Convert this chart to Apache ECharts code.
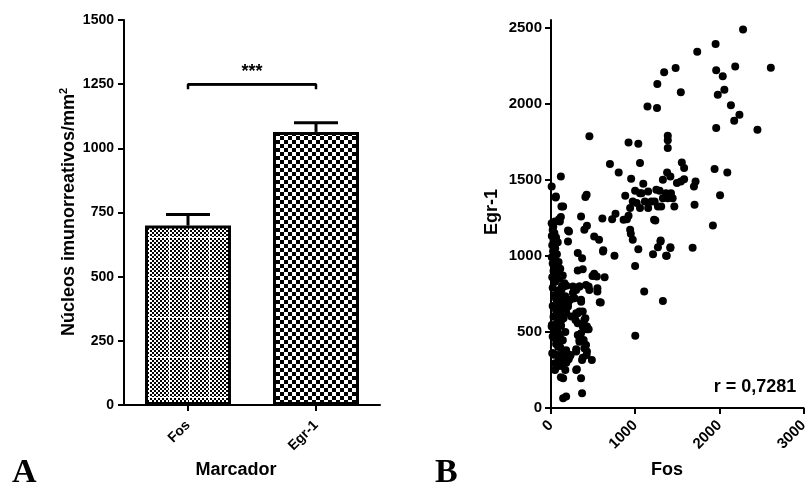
<!DOCTYPE html>
<html><head><meta charset="utf-8">
<script src="https://cdn.jsdelivr.net/npm/echarts@6/dist/echarts.min.js"></script>
<style>html,body{margin:0;padding:0;background:#fff}#c{width:811px;height:496px}</style>
</head><body><div id="c"></div>
<script>
// ---- Panel A data ----
const barCategories = ['Fos', 'Egr-1'];
const barMeans = [699, 1064];
const barErrTop = [742, 1100];
const barTicks = [0, 250, 500, 750, 1000, 1250, 1500];
const sigLevel = 1250;
const sigTickLevel = 1230;
const sigText = '***';
// ---- Panel B data (Fos, Egr-1) ----
const scatterXTicks = [0, 1000, 2000, 3000];
const scatterYTicks = [0, 500, 1000, 1500, 2000, 2500];
const rText = 'r = 0,7281';
const fosEgrPairs = [
[2281,2487],[1955,2392],[1737,2342],[1480,2235],[1344,2206],[1263,2129],[1146,1982],[1259,1972],[1542,2075],[1962,2219],
[2040,2180],[2188,2245],[2611,2237],[2059,2092],[1981,2059],[2137,1989],[2238,1928],[2176,1888],[1962,1840],[2452,1829],
[1387,1789],[1387,1759],[1387,1709],[456,1786],[921,1745],[1037,1737],[1057,1610],[700,1604],[804,1548],[952,1507],
[1554,1614],[1581,1577],[1943,1570],[2094,1548],[1379,1548],[1329,1500],[1418,1522],[1496,1478],[1542,1489],[1581,1504],
[1717,1489],[1698,1456],[1096,1474],[1251,1434],[1290,1428],[1154,1423],[1057,1412],[1367,1412],[1425,1412],[1387,1379],
[1445,1379],[1465,1325],[1329,1379],[1309,1325],[1231,1357],[1193,1357],[1115,1357],[1057,1314],[1154,1314],[1270,1325],
[1705,1336],[2008,1399],[1239,1232],[1923,1199],[1302,1101],[1270,1057],[1212,1011],[1418,1057],[1375,1000],[1682,1053],
[1107,765],[1329,704],[1001,475],[999,1428],[1076,1412],[882,1395],[971,1357],[1018,1347],[940,1314],[610,1246],
[726,1241],[766,1276],[901,1241],[921,1263],[940,1171],[948,1145],[971,1105],[621,1036],[754,1000],[999,934],
[1037,1044],[513,882],[493,868],[637,860],[862,1237],[1224,1237],[1301,1094],[1367,1000],[1418,1051],
[423,1401],[408,1386],[357,1259],[427,1197],[396,1171],[513,1127],[571,1105],[618,1029],[318,1018],[369,985],
[318,903],[377,912],[544,864],[447,798],[551,787],[579,695],[338,798],[260,798],[182,803],[124,776],
[357,711],[280,722],[377,634],[318,623],[408,590],[377,535],[423,518],[357,491],[338,447],[447,518],
[229,711],[202,667],[182,623],[241,601],[291,579],[124,579],[85,535],[47,524],[105,469],[85,403],
[144,360],[202,338],[299,371],[396,393],[27,360],[47,294],[105,283],[182,298],[221,338],[299,250],
[357,195],[369,316],[423,349],[485,316],[117,202],[144,195],[369,97],[144,64],[180,75],[307,254],
[47,250],[124,276],[377,331],[15,360],[85,349],[171,333],[233,349],[299,386],[427,371],[85,447],
[47,458],[338,436],[388,447],[416,414],[318,480],[8,535],[66,524],[318,557],[396,579],[427,535],
[299,623],[338,634],[124,656],[163,645],[105,678],[202,689],[66,711],[85,744],[105,776],[144,798],
[260,755],[299,776],[338,798],[416,809],[455,776],[551,765],[591,693],[358,699],
[8,1456],[58,1390],[124,1325],[117,1522],[55,1384],[144,1325],[117,1255],[95,1241],[8,1215],[47,1226],
[27,1193],[105,1226],[202,1167],[214,1160],[202,1094],[20,1170],[40,1150],[10,1130],[60,1120],[30,1100],
[80,1090],[15,1070],[50,1050],[25,1030],[70,1010],[10,990],[45,975],[90,960],[20,950],[60,930],
[110,915],[30,900],[75,880],[140,870],[15,860],[100,850],[50,830],[160,820],[130,800],[20,790],
[80,770],[110,745],[40,740],[170,735],[60,720],[140,700],[95,690],[20,670],[130,660],[180,650],
[60,640],[100,610],[30,600],[150,590],[75,560],[10,545],[120,540],[50,510],[170,500],[90,490],
[20,470],[140,445],[60,420],[110,400],[180,380],[35,350],[90,330],[150,300],[210,320],[65,270],[170,250]
];

function makePattern(w, h, cell, vLines, hLines) {
  const c = document.createElement('canvas');
  c.width = w; c.height = h;
  const g = c.getContext('2d');
  g.fillStyle = '#fff'; g.fillRect(0, 0, w, h);
  g.fillStyle = '#000';
  for (let y = 0; y < h; y += cell) for (let x = 0; x < w; x += cell)
    if (((x / cell) + (y / cell)) % 2 === 0) g.fillRect(x, y, cell, cell);
  g.fillStyle = '#fff';
  vLines.forEach(x => g.fillRect(x, 0, 1, h));
  hLines.forEach(y => g.fillRect(0, y, w, 1));
  return c;
}
const fosPattern = makePattern(20, 40, 2, [9], [37]);
const egrPattern = makePattern(8, 8, 4, [], []);

const FONT = "'Liberation Sans', Arial, Helvetica, sans-serif";
const plain = v => String(v);
const axisCommon = {
  axisLine: { show: true, lineStyle: { color: '#000', width: 2 } },
  axisTick: { show: true, length: 6, lineStyle: { color: '#000', width: 2 } },
  splitLine: { show: false },
  axisLabel: { color: '#000', fontFamily: FONT, fontWeight: 'bold', fontSize: 14, formatter: plain }
};

const chart = echarts.init(document.getElementById('c'), null, { renderer: 'canvas' });
chart.setOption({
  animation: false,
  backgroundColor: '#fff',
  grid: [
    { left: 124, top: 20, width: 256, height: 385 },
    { left: 551, top: 20, width: 258, height: 388 }
  ],
  xAxis: [
    Object.assign({}, axisCommon, {
      gridIndex: 0, type: 'category', data: barCategories, boundaryGap: true,
      axisTick: { show: true, alignWithLabel: true, length: 6, lineStyle: { color: '#000', width: 2 } },
      axisLabel: { color: '#000', fontFamily: FONT, fontWeight: 'bold', fontSize: 14, rotate: 45, margin: 18 }
    }),
    Object.assign({}, axisCommon, {
      gridIndex: 1, type: 'value', min: 0, max: 3000, interval: 1000,
      axisLabel: Object.assign({}, axisCommon.axisLabel, { rotate: 45, margin: 15, fontSize: 15, customValues: scatterXTicks }),
      axisTick: Object.assign({}, axisCommon.axisTick, { customValues: scatterXTicks })
    })
  ],
  yAxis: [
    Object.assign({}, axisCommon, {
      gridIndex: 0, type: 'value', min: 0, max: 1500, interval: 250,
      axisLabel: Object.assign({}, axisCommon.axisLabel, { margin: 10, customValues: barTicks }),
      axisTick: Object.assign({}, axisCommon.axisTick, { customValues: barTicks })
    }),
    Object.assign({}, axisCommon, {
      gridIndex: 1, type: 'value', min: 0, max: 2550,
      axisLabel: Object.assign({}, axisCommon.axisLabel, { margin: 9, fontSize: 15, customValues: scatterYTicks }),
      axisTick: Object.assign({}, axisCommon.axisTick, { customValues: scatterYTicks })
    })
  ],
  series: [
    {
      type: 'bar', xAxisIndex: 0, yAxisIndex: 0, barWidth: 86,
      data: barMeans.map((v, i) => ({
        value: v,
        itemStyle: { color: { image: i === 0 ? fosPattern : egrPattern, repeat: 'repeat' }, borderColor: '#000', borderWidth: 3 }
      })),
      z: 2
    },
    {
      type: 'custom', xAxisIndex: 0, yAxisIndex: 0, z: 3,
      data: barMeans.map((v, i) => [i, v, barErrTop[i]]),
      renderItem: function (params, api) {
        const p1 = api.coord([api.value(0), api.value(1)]);
        const p2 = api.coord([api.value(0), api.value(2)]);
        const hw = 22;
        const st = { stroke: '#000', lineWidth: 3 };
        return { type: 'group', children: [
          { type: 'line', shape: { x1: p1[0], y1: p1[1], x2: p2[0], y2: p2[1] }, style: st },
          { type: 'line', shape: { x1: p2[0] - hw, y1: p2[1], x2: p2[0] + hw, y2: p2[1] }, style: st }
        ] };
      }
    },
    {
      type: 'line', xAxisIndex: 0, yAxisIndex: 0, symbol: 'none', silent: true, z: 4,
      lineStyle: { color: '#000', width: 2.5 },
      data: [[0, sigTickLevel], [0, sigLevel], [1, sigLevel], [1, sigTickLevel]],
      markLine: {
        silent: true, symbol: 'none',
        lineStyle: { color: '#000', width: 2.5, type: 'solid' },
        label: { show: true, position: 'middle', formatter: sigText, color: '#000', fontFamily: FONT, fontWeight: 'bold', fontSize: 18, distance: 3 },
        data: [[{ coord: [0, sigLevel] }, { coord: [1, sigLevel] }]]
      }
    },
    {
      type: 'scatter', xAxisIndex: 1, yAxisIndex: 1, symbol: 'circle', symbolSize: 8,
      itemStyle: { color: '#000', opacity: 1 }, data: fosEgrPairs
    }
  ],
  graphic: [
    { type: 'text', x: 69, y: 212, rotation: Math.PI / 2,
      style: { text: '{a|Núcleos imunorreativos/mm}{s|2}', align: 'center', verticalAlign: 'middle', fill: '#000',
        rich: { a: { fontFamily: FONT, fontWeight: 'bold', fontSize: 18 }, s: { fontFamily: FONT, fontWeight: 'bold', fontSize: 11, padding: [0, 0, 10, 0] } } } },
    { type: 'text', x: 236, y: 470, style: { text: 'Marcador', align: 'center', verticalAlign: 'middle', fill: '#000', font: "bold 18px " + FONT } },
    { type: 'text', x: 492, y: 212, rotation: Math.PI / 2, style: { text: 'Egr-1', align: 'center', verticalAlign: 'middle', fill: '#000', font: "bold 18px " + FONT } },
    { type: 'text', x: 667, y: 470, style: { text: 'Fos', align: 'center', verticalAlign: 'middle', fill: '#000', font: "bold 18px " + FONT } },
    { type: 'text', x: 755, y: 387, style: { text: rText, align: 'center', verticalAlign: 'middle', fill: '#000', font: "bold 18px " + FONT } },
    { type: 'text', x: 12, y: 490, style: { text: 'A', align: 'left', verticalAlign: 'bottom', fill: '#000', font: "bold 34px 'Liberation Serif', 'Times New Roman', serif" } },
    { type: 'text', x: 435, y: 490, style: { text: 'B', align: 'left', verticalAlign: 'bottom', fill: '#000', font: "bold 34px 'Liberation Serif', 'Times New Roman', serif" } }
  ]
});
</script></body></html>
